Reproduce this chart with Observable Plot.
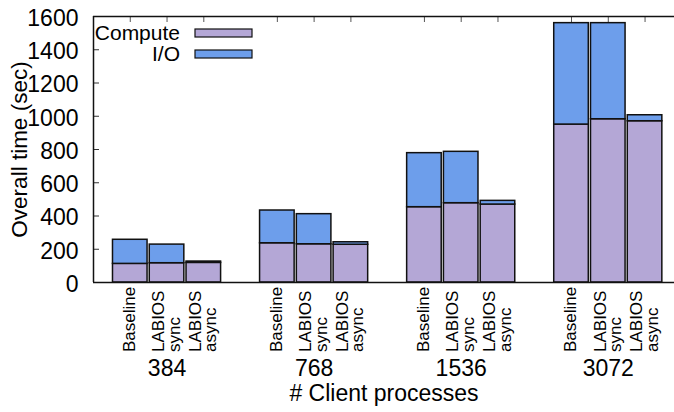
<!DOCTYPE html>
<html><head><meta charset="utf-8">
<script src="https://cdn.jsdelivr.net/npm/d3@7"></script>
<script src="https://cdn.jsdelivr.net/npm/@observablehq/plot@0.6"></script>
<style>
html,body{margin:0;padding:0;background:#fff;overflow:hidden}
#chart{width:674px;height:412px;position:relative;overflow:hidden}
</style></head><body><div id="chart"></div>
<script>
const groups = ["384", "768", "1536", "3072"];
const configs = ["Baseline", "LABIOS\nsync", "LABIOS\nasync"];
const computeTime = [112, 116, 118, 236, 230, 227, 453, 477, 469, 950, 982, 970];
const ioTime = [145, 112, 8, 197, 181, 15, 325, 309, 22, 610, 578, 36];
const series = ["Compute", "I/O"];
const colors = ["#b4a7d6", "#6d9eeb"];
const yTicks = [0, 200, 400, 600, 800, 1000, 1200, 1400, 1600];
const xLabel = "# Client processes";
const yLabel = "Overall time (sec)";

const perGroup = configs.length + 1;
const rows = [];
groups.forEach((g, gi) => configs.forEach((c, ci) => {
  const k = gi * configs.length + ci;
  rows.push({group: g, config: c, slot: gi * perGroup + ci, compute: computeTime[k], io: ioTime[k]});
}));
const groupRows = groups.map((g, gi) => ({group: g, slot: gi * perGroup + (configs.length - 1) / 2}));
const half = 0.47;
const font = "'Liberation Sans', Arial, Helvetica, sans-serif";

const chart = Plot.plot({
  width: 674, height: 412,
  marginLeft: 93, marginRight: 0, marginTop: 16, marginBottom: 130,
  style: {fontFamily: font, fontSize: "22px", background: "white", color: "black"},
  x: {type: "linear", domain: [-1, 15.1], range: [93, 685], axis: null},
  y: {domain: [0, 1600], axis: null},
  marks: [
    Plot.tickY(yTicks, {y: d => d, insetRight: 575, stroke: "#333", strokeWidth: 1}),
    Plot.tickX(rows, {x: "slot", insetBottom: 260, stroke: "#555", strokeWidth: 1}),
    Plot.rect(rows, {x1: d => d.slot - half, x2: d => d.slot + half, y1: 0, y2: "compute",
      fill: colors[0], stroke: "#111", strokeWidth: 1.5}),
    Plot.rect(rows, {x1: d => d.slot - half, x2: d => d.slot + half, y1: "compute", y2: d => d.compute + d.io,
      fill: colors[1], stroke: "#111", strokeWidth: 1.5}),
    Plot.ruleX([-1], {stroke: "#111", strokeWidth: 1.5}),
    Plot.ruleY([0, 1600], {stroke: "#111", strokeWidth: 1.5}),
    Plot.text(yTicks, {y: d => d, text: d => String(d), frameAnchor: "left", textAnchor: "end",
      lineAnchor: "middle", dx: -15, dy: 2, fontSize: 23, fill: "black"}),
    Plot.text(rows, {x: "slot", y: 0, text: "config", rotate: -90, textAnchor: "start",
      lineHeight: 0.9, fontSize: 17, dy: 69.5, fill: "black"}),
    Plot.text(groupRows, {x: "slot", y: 0, text: "group", fontSize: 23, lineAnchor: "middle", dy: 86, fill: "black"}),
    Plot.text([xLabel], {frameAnchor: "bottom", lineAnchor: "middle", textAnchor: "middle", fontSize: 23, dy: 111.5, fill: "black"}),
    Plot.text([yLabel], {frameAnchor: "left", rotate: -90, textAnchor: "middle", lineAnchor: "middle", fontSize: 22.5, dx: -74, fill: "black"})
  ]
});
document.getElementById("chart").appendChild(chart);

// legend
const svg = d3.select(chart);
const lg = svg.append("g").attr("font-family", font).attr("font-size", 21);
series.forEach((s, i) => {
  const cy = 33 + 21 * i;
  lg.append("text").attr("x", 180).attr("y", cy).attr("dy", "0.35em").attr("text-anchor", "end").attr("fill", "black").text(s);
  lg.append("rect").attr("x", 195).attr("y", cy - 4).attr("width", 57).attr("height", 8)
    .attr("fill", colors[i]).attr("stroke", "#111").attr("stroke-width", 1.2);
});
</script></body></html>
